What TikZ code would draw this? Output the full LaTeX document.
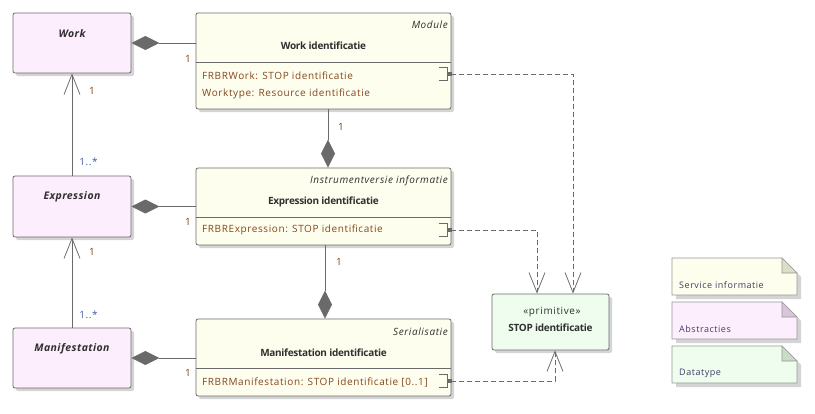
\documentclass[tikz,border=0pt]{standalone}
\usepackage{fontspec}
\setmainfont{Open Sans}
\newfontfamily\regsp[LetterSpace=6]{Open Sans}
\newfontfamily\bisp[LetterSpace=4]{Open Sans}
\newfontfamily\bcond[LetterSpace=-3]{Open Sans}
\newfontfamily\legsp[LetterSpace=6]{Open Sans}
\usetikzlibrary{arrows.meta,calc}
\definecolor{pinkf}{HTML}{FCEEFC}
\definecolor{yellowf}{HTML}{FEFEEE}
\definecolor{greenf}{HTML}{EFFDEF}
\definecolor{edge}{HTML}{6A6A6A}
\definecolor{shad}{HTML}{D4D4D4}
\definecolor{attrc}{HTML}{86461F}
\definecolor{multc}{HTML}{804000}
\definecolor{manyc}{HTML}{3A5BA8}
\definecolor{legtext}{HTML}{3F3F66}
\definecolor{titlec}{HTML}{303030}
\tikzset{
  box/.style={draw=edge, line width=0.8pt, rounded corners=2pt, inner sep=0pt},
  shadow/.style={fill=shad, rounded corners=2pt},
  abs/.style={box, fill=pinkf, minimum width=118pt, minimum height=60pt},
  cls/.style={box, fill=yellowf, minimum width=255pt},
  prim/.style={box, fill=greenf, minimum width=117pt, minimum height=56pt},
  ttl/.style={font=\bcond\fontsize{10}{12}\selectfont\bfseries, text=titlec, inner sep=0pt},
  ttlit/.style={font=\bisp\fontsize{10.5}{12}\selectfont\bfseries\itshape, text=titlec, inner sep=0pt},
  ster/.style={font=\regsp\fontsize{10}{12}\selectfont\itshape, text=titlec, inner sep=0pt, anchor=east},
  attr/.style={font=\regsp\fontsize{10}{12}\selectfont, text=attrc, inner sep=0pt, anchor=west},
  mult/.style={font=\regsp\fontsize{10}{12}\selectfont, text=multc, inner sep=0pt},
  many/.style={font=\regsp\fontsize{10}{12}\selectfont, text=manyc, inner sep=0pt},
  comp/.style={draw=edge, line width=0.8pt, {Diamond[length=28pt,width=14pt,fill=edge]}-},
  gen/.style={draw=edge, line width=0.8pt, -{Straight Barb[length=20pt,width=16pt,line width=0.8pt]}},
  dep/.style={draw=edge, line width=0.8pt, dash pattern=on 5pt off 3pt, -{Straight Barb[length=20pt,width=16pt,line width=0.8pt]}},
  port/.style={draw=edge, line width=0.8pt},
  legtxt/.style={font=\legsp\fontsize{9}{11}\selectfont, text=legtext, inner sep=0pt, anchor=west},
}
\begin{document}
\begin{tikzpicture}[x=1pt,y=-1pt]
\useasboundingbox (0,0) rectangle (815,413);
% shadows
\foreach \a/\b/\c/\d in {13/13/131/73, 13/176/131/237, 13/328/131/388, 196/13/451/109, 196/168/451/245, 196/319/451/396, 492/294/609/350}
  \fill[shadow] (\a+3,\b+3) rectangle (\c+3,\d+3);
% abstract boxes
\node[abs] (work) at (72,43) {};
\node[ttlit] at (72,34) {Work};
\node[abs, minimum height=61pt] (expr) at (72,206.5) {};
\node[ttlit] at (72,197) {Expression};
\node[abs] (mani) at (72,358) {};
\node[ttlit] at (72,349) {Manifestation};
% classes
\node[cls, minimum height=96pt] (wi) at (323.5,61) {};
\node[ster] at (448,25) {Module};
\node[ttl] at (323.5,46) {Work identificatie};
\draw[port] (196,62) -- (451,62);
\node[attr] at (202,76) {FRBRWork: STOP identificatie};
\node[attr] at (202,94) {Worktype: Resource identificatie};

\node[cls, minimum height=77pt] (ei) at (323.5,206.5) {};
\node[ster] at (448,181) {Instrumentversie informatie};
\node[ttl] at (323.5,202) {Expression identificatie};
\draw[port] (196,217) -- (451,217);
\node[attr] at (202,230) {FRBRExpression: STOP identificatie};

\node[cls, minimum height=77pt] (mi) at (323.5,357.5) {};
\node[ster] at (448,332) {Serialisatie};
\node[ttl] at (323.5,353) {Manifestation identificatie};
\draw[port] (196,368) -- (451,368);
\node[attr] at (202,382) {FRBRManifestation: STOP identificatie [0..1]};

% primitive
\node[prim] (stop) at (550.5,322) {};
\node[font=\regsp\fontsize{10}{12}\selectfont, text=titlec, inner sep=0pt] at (552,312) {«primitive»};
\node[ttl] at (550.5,328) {STOP identificatie};

% compositions
\draw[comp] (work.east) -- (work.east -| wi.west);
\draw[comp] (expr.east) -- (expr.east -| ei.west);
\draw[comp] (mani.east) -- (mani.east -| mi.west);
\draw[comp] ($(ei.north)+(4.5,0)$) -- ($(wi.south)+(4.5,0)$);
\draw[comp] ($(mi.north)+(1.5,0)$) -- ($(ei.south)+(1.5,0)$);
\node[mult] at (188,59) {1};
\node[mult] at (188,222) {1};
\node[mult] at (188,373) {1};
\node[mult] at (341,127) {1};
\node[mult] at (339,262) {1};

% associations to abstractions
\draw[gen] (expr.north) -- (work.south);
\draw[gen] (mani.north) -- (expr.south);
\node[mult] at (92,91) {1};
\node[mult] at (92,252) {1};
\node[many] at (88.5,162) {1..*};
\node[many] at (88.5,315) {1..*};

% ports
\coordinate (p1) at (451,74);
\coordinate (p2) at (451,230);
\coordinate (p3) at (451,381);
\foreach \p/\y in {p1/74, p2/230, p3/381}{
  \draw[port] (439,\y-6.5) -- (447,\y-6.5) -- (447,\y+6.5) -- (439,\y+6.5);
  \fill[edge] (447,\y-2) rectangle (452,\y+2);
}
\draw[dep] (p1) -| ($(stop.north)+(22.5,0)$);
\draw[dep] (p2) -| ($(stop.north)+(-13.5,0)$);
\draw[dep] (p3) -| ($(stop.south)+(4.5,0)$);

% legend notes
\foreach \y/\f/\k/\t in {258/yellowf/DEDEC6/Service informatie, 302/pinkf/D8C6D8/Abstracties, 346/greenf/C8DCC8/Datatype}{
  \fill[shad] (676,\y+4) -- (786,\y+4) -- (801,\y+19) -- (801,\y+41) -- (676,\y+41) -- cycle;
  \filldraw[fill=\f, draw=edge!70, line width=0.6pt] (672,\y) -- (782,\y) -- (797,\y+15) -- (797,\y+37) -- (672,\y+37) -- cycle;
  \definecolor{foldc}{HTML}{\k}
  \filldraw[fill=foldc, draw=edge!70, line width=0.6pt] (782,\y) -- (797,\y+15) -- (782,\y+15) -- cycle;
  \node[legtxt] at (679,\y+27) {\t};
}
\end{tikzpicture}
\end{document}
